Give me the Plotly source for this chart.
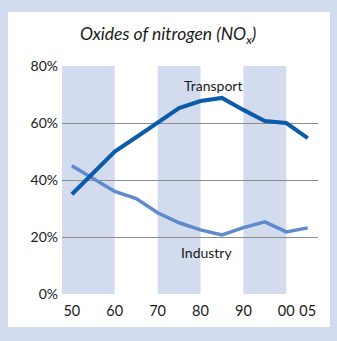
import plotly.graph_objects as go

years = [1950, 1955, 1960, 1965, 1970, 1975, 1980, 1985, 1990, 1995, 2000, 2005]
transport = [35, 42.5, 50, 55, 60, 65.2, 67.7, 68.8, 64.6, 60.7, 60, 54.7]
industry = [45, 40.5, 36, 33.5, 28.5, 25, 22.5, 20.7, 23.3, 25.3, 21.8, 23.2]
tick_years = [1950, 1960, 1970, 1980, 1990, 2000, 2005]
tick_labels = ["50", "60", "70", "80", "90", "00", "05"]
y_ticks = [0, 20, 40, 60, 80]
y_labels = ["0%", "20%", "40%", "60%", "80%"]
bands = [(1947.7, 1960), (1970, 1980), (1990, 2000)]

FRAME = "#d3dcef"
BAND = "#d3dcef"
FONT = "Lato"

fig = go.Figure()
fig.add_trace(go.Scatter(x=years, y=industry, mode="lines",
                         line=dict(color="#5f8acb", width=3.5), hoverinfo="skip"))
fig.add_trace(go.Scatter(x=years, y=transport, mode="lines",
                         line=dict(color="#0b5bab", width=4), hoverinfo="skip"))

shapes = [dict(type="rect", xref="paper", yref="paper",
               x0=(8 - 62) / 256, x1=(330 - 62) / 256,
               y0=(294 - 327) / 228, y1=(294 - 12) / 228,
               fillcolor="white", line=dict(width=0), layer="below")]
for a, b in bands:
    shapes.append(dict(type="rect", xref="x", yref="y", x0=a, x1=b, y0=0, y1=80,
                       fillcolor=BAND, line=dict(width=0), layer="below"))

fig.update_layout(
    width=337, height=341,
    margin=dict(l=62, r=19, t=66, b=47),
    paper_bgcolor=FRAME, plot_bgcolor="rgba(0,0,0,0)",
    showlegend=False,
    shapes=shapes,
    font=dict(family=FONT, color="#1a1a1a", size=14),
    xaxis=dict(range=[1947.7, 2007.4], tickvals=tick_years, ticktext=tick_labels,
               showgrid=False, zeroline=False, showline=False, ticks="",
               ticklabelstandoff=6,
               tickfont=dict(size=14.5), fixedrange=True),
    yaxis=dict(range=[0, 80], tickvals=y_ticks, ticktext=y_labels,
               showgrid=True, gridcolor="#8c8c8c", gridwidth=1,
               zeroline=False, showline=False, ticks="", ticklen=0,
               ticklabelstandoff=3,
               tickfont=dict(size=14), fixedrange=True),
    annotations=[
        dict(text="<i>Oxides of nitrogen (NO<sub>x</sub>)</i>", xref="paper", yref="paper",
             x=(168 - 62) / 256, y=(294 - 35) / 228, showarrow=False,
             font=dict(size=17.5, family=FONT), xanchor="center", yanchor="middle"),
        dict(text="Transport", x=1982.9, y=73, xref="x", yref="y", showarrow=False,
             font=dict(size=14), xanchor="center", yanchor="middle"),
        dict(text="Industry", x=1981.5, y=14.4, xref="x", yref="y", showarrow=False,
             font=dict(size=14), xanchor="center", yanchor="middle"),
    ],
)

fig.write_html("out.html")
